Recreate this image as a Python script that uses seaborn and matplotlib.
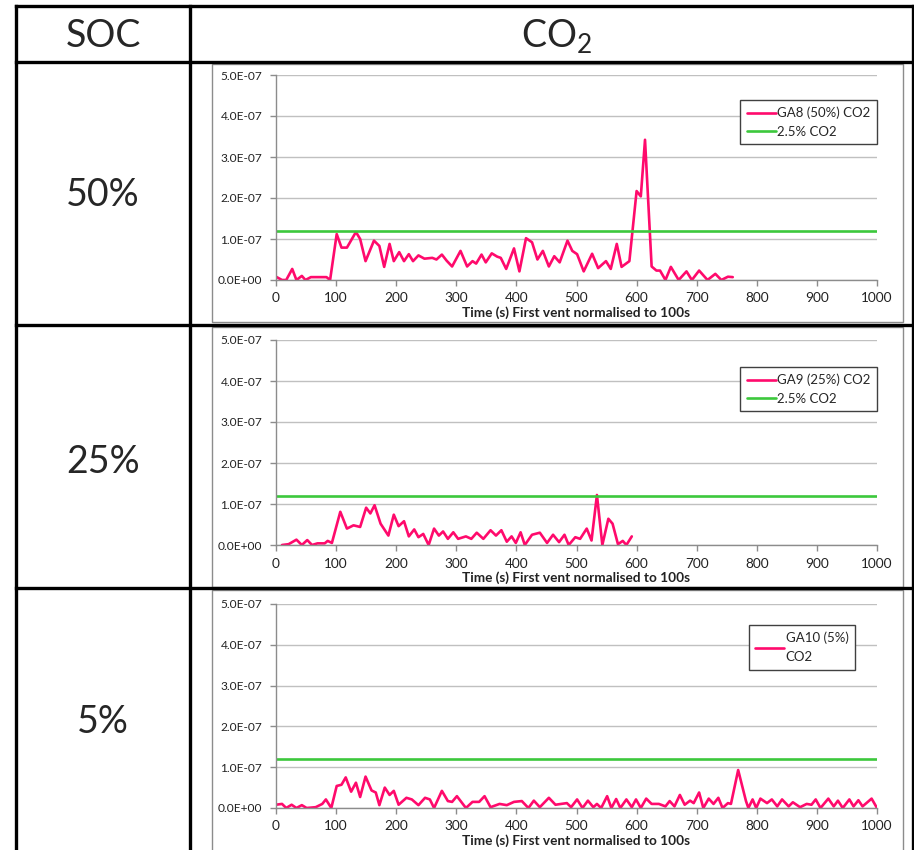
import numpy as np
import pandas as pd
import matplotlib
matplotlib.use("Agg")
import matplotlib.pyplot as plt
import matplotlib.ticker as mticker
from matplotlib.lines import Line2D
from matplotlib.patches import Rectangle
import seaborn as sns

# ---------------- data ----------------
soc_labels = ["50%", "25%", "5%"]
series_names = ["GA8 (50%) CO2", "GA9 (25%) CO2", "GA10 (5%)\nCO2"]
threshold_name = "2.5% CO2"
threshold_value = 1.2e-7
threshold_x = [0, 1000]

ga8_t = [0, 10, 17, 27, 34, 43, 49, 58, 84, 90, 101, 109, 118, 133, 140, 149, 163, 172, 180, 189,
         196, 205, 213, 221, 228, 237, 247, 260, 267, 276, 284, 293, 307, 318, 327, 333, 342, 349,
         359, 368, 374, 383, 396, 405, 416, 426, 435, 444, 454, 463, 472, 485, 493, 501, 512, 526,
         536, 549, 557, 567, 575, 588, 600, 607, 614, 625, 633, 639, 648, 657, 670, 683, 692, 704,
         718, 731, 741, 752, 760]
ga8_v = [0.08, 0.0, 0.0, 0.27, 0.0, 0.1, 0.0, 0.07, 0.07, 0.0, 1.12, 0.79, 0.79, 1.17, 1.0, 0.46,
         0.96, 0.83, 0.32, 0.88, 0.46, 0.68, 0.46, 0.63, 0.46, 0.6, 0.52, 0.54, 0.5, 0.62, 0.47,
         0.33, 0.71, 0.33, 0.46, 0.4, 0.62, 0.43, 0.65, 0.57, 0.54, 0.27, 0.77, 0.21, 1.02, 0.92,
         0.5, 0.71, 0.33, 0.58, 0.43, 0.96, 0.71, 0.63, 0.21, 0.64, 0.29, 0.46, 0.27, 0.88, 0.32,
         0.46, 2.17, 2.04, 3.42, 0.33, 0.23, 0.23, 0.0, 0.32, 0.0, 0.21, 0.0, 0.23, 0.0, 0.15, 0.0,
         0.08, 0.07]

ga9_t = [10, 21, 34, 43, 52, 60, 69, 81, 86, 93, 107, 118, 129, 140, 150, 157, 164, 174, 187, 196,
         204, 213, 221, 230, 237, 245, 254, 263, 271, 278, 286, 295, 303, 316, 325, 334, 345, 357,
         366, 375, 384, 392, 399, 407, 414, 426, 439, 451, 461, 471, 480, 487, 498, 506, 517, 525,
         534, 543, 553, 560, 569, 577, 583, 592]
ga9_v = [0.0, 0.02, 0.13, 0.0, 0.12, 0.0, 0.04, 0.04, 0.1, 0.05, 0.81, 0.4, 0.48, 0.44, 0.91, 0.77,
         0.97, 0.52, 0.23, 0.74, 0.46, 0.58, 0.21, 0.38, 0.19, 0.27, 0.0, 0.4, 0.23, 0.33, 0.15,
         0.31, 0.15, 0.21, 0.15, 0.3, 0.15, 0.36, 0.23, 0.36, 0.08, 0.21, 0.05, 0.31, 0.0, 0.25,
         0.3, 0.05, 0.25, 0.07, 0.25, 0.0, 0.19, 0.15, 0.4, 0.11, 1.22, 0.0, 0.64, 0.52, 0.02, 0.1,
         0.0, 0.21]

ga10_t = [0, 10, 17, 26, 34, 43, 51, 66, 77, 83, 92, 101, 109, 116, 125, 133, 140, 149, 159, 166,
          172, 181, 189, 196, 204, 217, 226, 237, 248, 256, 263, 276, 286, 293, 301, 316, 327, 338,
          347, 357, 372, 384, 396, 409, 420, 429, 439, 454, 465, 484, 491, 501, 510, 519, 528, 534,
          541, 551, 558, 566, 573, 583, 592, 599, 607, 616, 625, 637, 648, 655, 663, 672, 680, 689,
          695, 704, 711, 720, 728, 736, 743, 752, 757, 769, 782, 786, 793, 799, 806, 817, 825, 834,
          842, 853, 860, 872, 883, 891, 898, 906, 919, 928, 935, 943, 954, 961, 969, 976, 991, 1000]
ga10_v = [0.08, 0.1, 0.0, 0.08, 0.0, 0.07, 0.0, 0.02, 0.1, 0.21, 0.0, 0.54, 0.57, 0.75, 0.4, 0.62,
          0.27, 0.77, 0.43, 0.38, 0.07, 0.5, 0.32, 0.42, 0.08, 0.25, 0.21, 0.07, 0.25, 0.21, 0.0,
          0.42, 0.17, 0.15, 0.29, 0.0, 0.15, 0.15, 0.29, 0.02, 0.1, 0.07, 0.15, 0.17, 0.0, 0.18,
          0.02, 0.25, 0.08, 0.12, 0.02, 0.21, 0.0, 0.18, 0.02, 0.1, 0.0, 0.29, 0.0, 0.22, 0.0, 0.21,
          0.02, 0.21, 0.0, 0.23, 0.1, 0.1, 0.04, 0.17, 0.04, 0.32, 0.08, 0.18, 0.12, 0.38, 0.0,
          0.23, 0.1, 0.25, 0.0, 0.12, 0.1, 0.93, 0.17, 0.0, 0.21, 0.0, 0.23, 0.12, 0.21, 0.04, 0.21,
          0.04, 0.14, 0.02, 0.1, 0.08, 0.21, 0.0, 0.23, 0.04, 0.18, 0.0, 0.21, 0.04, 0.19, 0.04,
          0.23, 0.0]

y_ticks = [0, 1e-7, 2e-7, 3e-7, 4e-7, 5e-7]
x_ticks = list(range(0, 1001, 100))
x_label = "Time (s) First vent normalised to 100s"
header_left = "SOC"
header_right = r"$\mathregular{CO_2}$"

series_t = [ga8_t, ga9_t, ga10_t]
series_v = [ga8_v, ga9_v, ga10_v]
show_threshold_in_legend = [True, True, False]

# ---------------- style ----------------
sns.set_style("white")
plt.rcParams["font.family"] = ["Lato", "DejaVu Sans"]
plt.rcParams["mathtext.fontset"] = "custom"
plt.rcParams["mathtext.rm"] = "Lato"

PINK = "#FF0A6C"
GREEN = "#3CC83C"
W, H = 914, 850
fig = plt.figure(figsize=(W / 100, H / 100), dpi=100)


def fx(px):
    return px / W


def fy(py):
    return 1 - py / H


# table lines
tbl_kw = dict(color="black", lw=2.4, transform=fig.transFigure, solid_capstyle="projecting")
for y in [6, 62, 325, 588]:
    fig.add_artist(Line2D([fx(16), fx(913)], [fy(y), fy(y)], **tbl_kw))
for x in [16, 190, 913]:
    fig.add_artist(Line2D([fx(x), fx(x)], [fy(6), fy(851)], **tbl_kw))

fig.text(fx(103), fy(36), header_left, ha="center", va="center", fontsize=27)
fig.text(fx(557), fy(36), header_right, ha="center", va="center", fontsize=27)

# chart area boxes (px): top, bottom
boxes = [(64, 322), (327, 587), (590, 860)]
# plot area (px): y of 5e-7, y of 0
plot_rows = [(75, 280), (340, 545), (604, 808)]
row_label_y = [195, 462, 722]
legend_top = [100, 367, 625]
legend_right = [877, 877, 855]

TICK_FS = 9.8
for i in range(3):
    bt, bb = boxes[i]
    fig.add_artist(Rectangle((fx(212), fy(bb)), fx(903) - fx(212), fy(bt) - fy(bb),
                             transform=fig.transFigure, fill=False, edgecolor="#8c8c8c", lw=1.0))
    fig.text(fx(103), fy(row_label_y[i]), soc_labels[i], ha="center", va="center", fontsize=27)

    top, bot = plot_rows[i]
    ax = fig.add_axes([fx(276), fy(bot), fx(877) - fx(276), fy(top) - fy(bot)])

    df = pd.DataFrame({"t": series_t[i], "v": np.array(series_v[i]) * 1e-7})
    sns.lineplot(data=df, x="t", y="v", ax=ax, color=PINK, lw=1.9, estimator=None,
                 sort=False, label=series_names[i])
    thr = pd.DataFrame({"t": threshold_x, "v": [threshold_value] * len(threshold_x)})
    sns.lineplot(data=thr, x="t", y="v", ax=ax, color=GREEN, lw=1.9, estimator=None,
                 label=threshold_name if show_threshold_in_legend[i] else "_nolegend_")

    ax.set_xlim(0, 1000)
    ax.set_ylim(0, 5e-7)
    ax.set_xticks(x_ticks)
    ax.set_yticks(y_ticks)
    ax.yaxis.set_major_formatter(mticker.FuncFormatter(lambda v, p: f"{v:.1E}"))
    ax.grid(axis="y", color="#c0c0c0", lw=1.0)
    ax.grid(axis="x", visible=False)
    ax.set_axisbelow(True)
    for s in ["top", "right"]:
        ax.spines[s].set_visible(False)
    for s in ["left", "bottom"]:
        ax.spines[s].set_color("#8c8c8c")
        ax.spines[s].set_linewidth(1.0)
    ax.tick_params(axis="both", which="major", length=4, width=1, color="#8c8c8c",
                   labelcolor="#222222", direction="out", bottom=True, left=True)
    ax.tick_params(axis="x", pad=5, labelsize=TICK_FS)
    ax.tick_params(axis="y", pad=6, labelsize=8.6)
    ax.set_ylabel("")
    ax.set_xlabel(x_label, fontsize=TICK_FS, fontweight="bold", labelpad=1.5, color="#222222")
    ax.patch.set_alpha(0)

    leg_top_frac = (bot - legend_top[i]) / (bot - top)
    leg_right_frac = (legend_right[i] - 276) / (877 - 276)
    leg = ax.legend(loc="upper right", bbox_to_anchor=(leg_right_frac, leg_top_frac), fontsize=9.5,
                    frameon=True, fancybox=False, framealpha=1, edgecolor="#404040",
                    handlelength=2.2, handletextpad=0.1, borderpad=0.5, labelspacing=0.5,
                    borderaxespad=0)
    leg.get_frame().set_linewidth(1.0)
    for txt in leg.get_texts():
        txt.set_linespacing(1.7)

fig.savefig("out.png", dpi=100)
